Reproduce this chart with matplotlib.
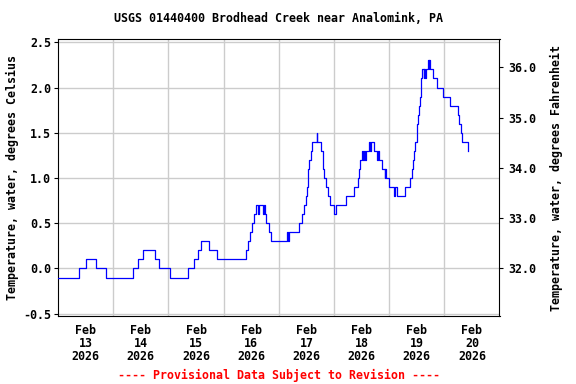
import matplotlib
matplotlib.use('Agg')
import matplotlib.pyplot as plt
import pandas as pd

# ---- data (hours since 2026-02-13 00:00, temperature in deg C, step changes) ----
hours = [0, 9.2, 12.1, 16.6, 20.7,
         32.7, 34.8, 37.1, 42.1, 43.8, 48.7,
         56.7, 59.0, 60.7, 62.0, 65.5, 69.0,
         81.6, 82.5, 83.4, 84.5, 85.4, 86.0, 86.8, 87.3, 89.0, 89.5, 89.9, 90.3, 91.6, 92.5,
         99.4, 99.8, 100.4, 105.0, 106.0, 106.9, 107.8, 108.4, 108.7, 108.8, 109.1, 110.0,
         110.4, 112.5, 112.8, 114.2, 115.1, 115.4, 115.6, 116.4, 117.3, 118.1, 120.0, 120.9,
         125.2, 128.7, 130.6, 131.1, 131.5, 132.2, 132.6, 132.9, 133.3, 133.9, 135.3, 135.7,
         136.2, 137.2, 138.9, 139.2, 139.6, 141.0, 142.1, 142.3, 142.7, 144.0, 146.3, 146.6, 147.4,
         151.0, 153.2, 153.9, 154.5, 154.9, 155.3, 156.0, 156.2, 156.7, 157.1, 157.4, 157.7,
         158.0, 158.3, 159.0, 159.3, 159.6, 159.9, 160.9, 161.2, 161.5, 161.6, 163.2, 164.9,
         167.6, 170.6, 174.1, 174.6, 175.1, 175.9, 178.5]
temps_c = [-0.1, 0.0, 0.1, 0.0, -0.1,
           0.0, 0.1, 0.2, 0.1, 0.0, -0.1,
           0.0, 0.1, 0.2, 0.3, 0.2, 0.1,
           0.2, 0.3, 0.4, 0.5, 0.6, 0.7, 0.6, 0.7, 0.6, 0.7, 0.6, 0.5, 0.4, 0.3,
           0.4, 0.3, 0.4, 0.5, 0.6, 0.7, 0.8, 0.9, 1.0, 1.1, 1.2, 1.3,
           1.4, 1.5, 1.4, 1.3, 1.2, 1.1, 1.0, 0.9, 0.8, 0.7, 0.6, 0.7,
           0.8, 0.9, 1.0, 1.1, 1.2, 1.3, 1.2, 1.3, 1.2, 1.3, 1.4, 1.3,
           1.4, 1.3, 1.2, 1.3, 1.2, 1.1, 1.0, 1.1, 1.0, 0.9, 0.8, 0.9, 0.8,
           0.9, 1.0, 1.1, 1.2, 1.3, 1.4, 1.5, 1.6, 1.7, 1.8, 1.9, 2.0,
           2.1, 2.2, 2.1, 2.2, 2.1, 2.2, 2.3, 2.2, 2.3, 2.2, 2.1, 2.0,
           1.9, 1.8, 1.7, 1.6, 1.5, 1.4, 1.3]

start_date = '2026-02-13'
n_days = 8
day_labels = ['Feb\n13\n2026', 'Feb\n14\n2026', 'Feb\n15\n2026', 'Feb\n16\n2026',
              'Feb\n17\n2026', 'Feb\n18\n2026', 'Feb\n19\n2026', 'Feb\n20\n2026']
c_ticks = [-0.5, 0.0, 0.5, 1.0, 1.5, 2.0, 2.5]
f_ticks = [32.0, 33.0, 34.0, 35.0, 36.0]
title = 'USGS 01440400 Brodhead Creek near Analomink, PA'
left_label = 'Temperature, water, degrees Celsius'
right_label = 'Temperature, water, degrees Fahrenheit'
footer = '---- Provisional Data Subject to Revision ----'

plt.rcParams['font.family'] = ['DejaVu Sans Mono']
plt.rcParams['font.weight'] = 'bold'
plt.rcParams['axes.unicode_minus'] = False
FS = 8.4

W, H = 576, 384
fig = plt.figure(figsize=(W / 100, H / 100), dpi=100)
x0, x1, ytop, ybot = 58.1, 499.5, 39.3, 316.0
ax = fig.add_axes([x0 / W, 1 - ybot / H, (x1 - x0) / W, (ybot - ytop) / H])

start = pd.Timestamp(start_date)
times = start + pd.to_timedelta(hours, unit='h')
ax.plot(times, temps_c, drawstyle='steps-post', color='#0000ff', lw=0.9, zorder=3)

ax.set_xlim(start, start + pd.Timedelta(days=n_days))
c_lo, c_hi = -0.525, 2.533
ax.set_ylim(c_lo, c_hi)

noons = [start + pd.Timedelta(hours=12 + 24 * i) for i in range(n_days)]
mids = [start + pd.Timedelta(days=i) for i in range(1, n_days)]
ax.set_xticks(noons)
ax.set_xticklabels(day_labels, fontsize=FS, fontweight='bold', linespacing=1.04)
ax.set_xticks(mids, minor=True)
ax.tick_params(axis='x', which='both', length=0, pad=5.5)
ax.grid(axis='x', which='minor', color='#cccccc', lw=1.0)

ax.set_yticks(c_ticks)
ax.set_yticklabels([f'{v:.1f}' for v in c_ticks], fontsize=FS, fontweight='bold')
ax.tick_params(axis='y', which='major', length=3, width=0.8, pad=2, direction='out')
ax.grid(axis='y', which='major', color='#cccccc', lw=1.0)
ax.set_axisbelow(True)

for s in ax.spines.values():
    s.set_linewidth(0.8)
    s.set_color('black')

ax2 = ax.twinx()
ax2.set_ylim(c_lo * 1.8 + 32, c_hi * 1.8 + 32)
ax2.set_yticks(f_ticks)
ax2.set_yticklabels([f'{v:.1f}' for v in f_ticks], fontsize=FS, fontweight='bold')
ax2.tick_params(axis='y', length=3, width=0.8, pad=3, direction='out')
for name, s in ax2.spines.items():
    s.set_linewidth(0.8)
    s.set_visible(name == 'right')
ax.spines['right'].set_visible(False)

cx = (x0 + x1) / 2 / W
fig.text(cx, 1 - 19 / H, title, ha='center', va='center', fontsize=FS, fontweight='bold')
fig.text(12 / W, 1 - (ytop + ybot) / 2 / H, left_label, rotation=90, ha='center', va='center',
         fontsize=FS, fontweight='bold')
fig.text(556 / W, 1 - (ytop + ybot) / 2 / H, right_label, rotation=90, ha='center', va='center',
         fontsize=FS, fontweight='bold')
fig.text(cx, 1 - 375 / H, footer, ha='center', va='center', fontsize=FS, fontweight='bold',
         color='#ff0000')

fig.savefig('out.png', dpi=100)
